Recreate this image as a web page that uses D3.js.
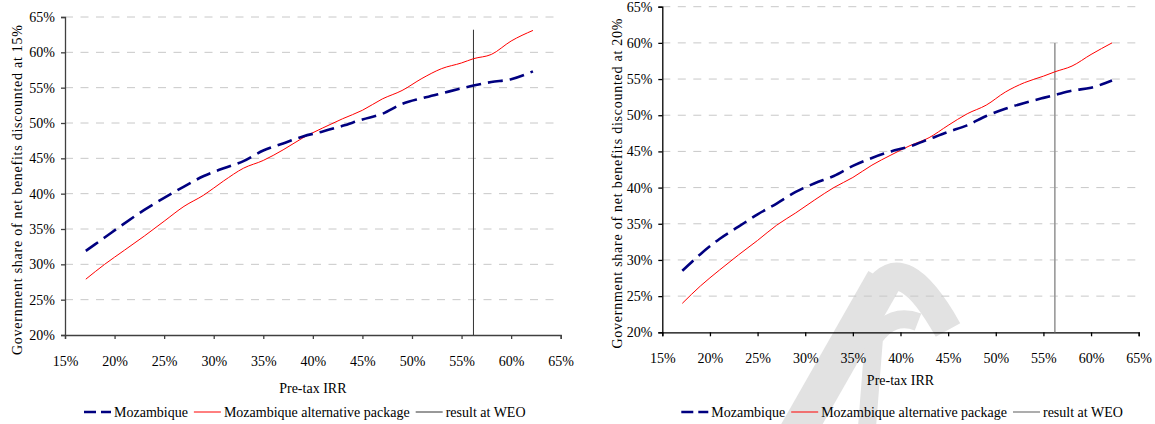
<!DOCTYPE html>
<html>
<head>
<meta charset="utf-8">
<script src="https://cdn.jsdelivr.net/npm/d3@7"></script>
<style>
  body { margin: 0; background: #fff; }
  svg { display: block; }
  svg text { font-family: 'Liberation Serif', 'Times New Roman', Times, 'DejaVu Serif', serif; fill: #000; }
</style>
</head>
<body>
<svg id="chart" width="1155" height="424"></svg>
<script>

// pre-tax IRR (%) sampled along both curves
var irr = [ 17.1, 19, 21, 23, 25, 27, 29, 31, 33, 35, 37, 39, 41, 43, 45, 47, 49, 51, 53, 55, 56.2, 58, 60, 62.2 ];

// government share of net benefits (%), discounted at 15%
var moz15 = [ 31.9, 33.8, 35.8, 37.7, 39.4, 41.0, 42.5, 43.6, 44.6, 46.1, 47.1, 48.1, 48.8, 49.6, 50.5, 51.3, 52.7, 53.5, 54.2, 54.9, 55.3, 55.8, 56.2, 57.3 ];
var alt15 = [ 27.9, 30.0, 32.0, 34.0, 36.1, 38.2, 39.8, 41.8, 43.6, 44.7, 46.2, 47.9, 49.3, 50.6, 51.8, 53.4, 54.6, 56.3, 57.7, 58.5, 59.1, 59.7, 61.6, 63.1 ];

// government share of net benefits (%), discounted at 20%
var moz20 = [ 28.5, 30.8, 32.9, 34.6, 36.3, 37.8, 39.4, 40.6, 41.6, 43.0, 44.1, 45.0, 45.7, 46.7, 47.7, 48.6, 49.9, 50.9, 51.7, 52.4, 52.8, 53.4, 53.8, 54.8 ];
var alt20 = [ 24.0, 26.4, 28.6, 30.7, 32.7, 34.8, 36.5, 38.3, 40.0, 41.4, 43.1, 44.5, 45.8, 46.9, 48.6, 50.2, 51.4, 53.2, 54.5, 55.4, 56.0, 56.8, 58.4, 60.0 ];

// "result at WEO" marker
var weoIrr = 56.2;
var weoTop15 = 63.2;
var weoTop20 = 60.0;

var xTicks = [ 15, 20, 25, 30, 35, 40, 45, 50, 55, 60, 65 ];
var yTicks = [ 20, 25, 30, 35, 40, 45, 50, 55, 60, 65 ];

var seriesNames = [ 'Mozambique', 'Mozambique alternative package', 'result at WEO' ];

var FONT = "'Liberation Serif', 'Times New Roman', Times, 'DejaVu Serif', serif";

var svg = d3.select('#chart');

// faint watermark behind the right chart
var wm = svg.append('g')
    .attr('fill', 'none')
    .attr('stroke', '#e2e2e2')
    .attr('stroke-linecap', 'butt');

wm.append('path')
    .attr('stroke-width', 36)
    .attr('d', 'M 790,445 L 884,280');

wm.append('path')
    .attr('stroke-width', 28)
    .attr('d', 'M 876,292 Q 902,248 948,330');

wm.append('path')
    .attr('stroke-width', 18)
    .attr('d', 'M 866,440 L 874,338 Q 892,312 918,322');

drawChart({
    left: 65, right: 560.7, top: 17, bottom: 335,
    moz: moz15, alt: alt15, weoTop: weoTop15,
    axisColor: '#404040', weoColor: '#333', weoWidth: 1,
    yTitle: 'Government share of net benefits discounted at 15%',
    yTitleX: 22, yTitleY: 190, xTitleY: 393, legendY: 412
});

drawChart({
    left: 662.3, right: 1138.7, top: 6.7, bottom: 332.3,
    moz: moz20, alt: alt20, weoTop: weoTop20,
    axisColor: '#000', weoColor: '#999', weoWidth: 1.6,
    yTitle: 'Government share of net benefits discounted at 20%',
    yTitleX: 622, yTitleY: 183.5, xTitleY: 385, legendY: 412
});

function drawChart ( o ) {

    var g = svg.append('g');

    var x = d3.scaleLinear()
        .domain([ 15, 65 ])
        .range([ o.left, o.right ]);

    var y = d3.scaleLinear()
        .domain([ 20, 65 ])
        .range([ o.bottom, o.top ]);

    // dashed gridlines
    g.append('g')
        .selectAll('line')
        .data( yTicks.filter( function ( d ) { return d > 20; } ) )
        .enter().append('line')
        .attr('x1', o.left)
        .attr('x2', o.right)
        .attr('y1', function ( d ) { return y( d ); })
        .attr('y2', function ( d ) { return y( d ); })
        .attr('stroke', '#c8c8c8')
        .attr('stroke-width', 1)
        .attr('stroke-dasharray', '8,7.5');

    // axes
    var xAxis = g.append('g')
        .attr('transform', 'translate(0,' + o.bottom + ')')
        .call( d3.axisBottom( x ).tickValues( xTicks ).tickSize( 4 ).tickPadding( 17 )
            .tickFormat( function ( d ) { return d + '%'; } ) );

    var yAxis = g.append('g')
        .attr('transform', 'translate(' + o.left + ',0)')
        .call( d3.axisLeft( y ).tickValues( yTicks ).tickSize( 4 ).tickPadding( 6 )
            .tickFormat( function ( d ) { return d + '%'; } ) );

    [ xAxis, yAxis ].forEach( function ( a ) {

        a.attr('font-family', FONT).attr('font-size', 14);
        a.select('.domain').attr('stroke', o.axisColor).attr('stroke-width', 1.3);
        a.selectAll('.tick line').attr('stroke', o.axisColor).attr('stroke-width', 1.3);
        a.selectAll('.tick text').attr('fill', '#000');

    });

    // vertical "result at WEO" line
    g.append('line')
        .attr('x1', x( weoIrr ))
        .attr('x2', x( weoIrr ))
        .attr('y1', y( o.weoTop ))
        .attr('y2', o.bottom)
        .attr('stroke', o.weoColor)
        .attr('stroke-width', o.weoWidth);

    var line = d3.line()
        .x( function ( d, i ) { return x( irr[ i ] ); })
        .y( function ( d ) { return y( d ); })
        .curve( d3.curveMonotoneX );

    g.append('path')
        .datum( o.alt )
        .attr('d', line)
        .attr('fill', 'none')
        .attr('stroke', '#ff0000')
        .attr('stroke-width', 1);

    g.append('path')
        .datum( o.moz )
        .attr('d', line)
        .attr('fill', 'none')
        .attr('stroke', '#000080')
        .attr('stroke-width', 2.6)
        .attr('stroke-dasharray', '15,7');

    // axis titles
    g.append('text')
        .attr('transform', 'translate(' + o.yTitleX + ',' + o.yTitleY + ') rotate(-90)')
        .attr('text-anchor', 'middle')
        .attr('font-family', FONT)
        .attr('font-size', 14)
        .attr('textLength', 330)
        .attr('lengthAdjust', 'spacing')
        .text( o.yTitle );

    g.append('text')
        .attr('x', ( o.left + o.right ) / 2)
        .attr('y', o.xTitleY)
        .attr('text-anchor', 'middle')
        .attr('font-family', FONT)
        .attr('font-size', 14)
        .text('Pre-tax IRR');

    // legend
    var lx = o.left + 19;
    var ly = o.legendY;

    var styles = [
        { stroke: '#000080', width: 2.6, dash: '12,5' },
        { stroke: '#ff0000', width: 1, dash: null },
        { stroke: o.weoColor, width: o.weoWidth, dash: null }
    ];

    seriesNames.forEach( function ( name, i ) {

        g.append('line')
            .attr('x1', lx)
            .attr('x2', lx + 27)
            .attr('y1', ly)
            .attr('y2', ly)
            .attr('stroke', styles[ i ].stroke)
            .attr('stroke-width', styles[ i ].width)
            .attr('stroke-dasharray', styles[ i ].dash);

        var t = g.append('text')
            .attr('x', lx + 30)
            .attr('y', ly + 5)
            .attr('font-family', FONT)
            .attr('font-size', 14)
            .text( name );

        lx += 30 + t.node().getComputedTextLength() + 6;

    });

}

</script>
</body>
</html>
